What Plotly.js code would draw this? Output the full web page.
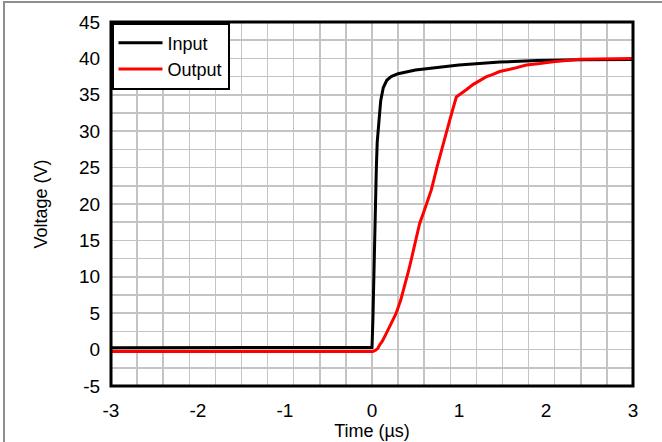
<!DOCTYPE html>
<html>
<head>
<meta charset="utf-8">
<script src="https://cdn.plot.ly/plotly-3.0.1.min.js"></script>
<style>
  html, body { margin: 0; padding: 0; background: #ffffff; }
  #wrap { position: relative; width: 662px; height: 442px; overflow: hidden; }
  #chart { position: absolute; left: 0; top: 0; width: 662px; height: 442px; }
  #edge { position: absolute; left: 3px; top: 1px; right: -10px; bottom: -10px;
          border-top: 2px solid #8e8e8e; border-left: 2px solid #8e8e8e; pointer-events: none; }
</style>
</head>
<body>
<div id="wrap">
  <div id="chart"></div>
  <div id="edge"></div>
</div>
<script>
// Input step (black trace): time in µs, voltage in V
const inputTime = [-3.0, -2.0, -1.0, -0.5, 0.0, 0.01, 0.02, 0.03, 0.04, 0.05, 0.06, 0.08, 0.10,
                   0.13, 0.17, 0.22, 0.30, 0.50, 0.785, 1.0, 1.47, 1.9, 2.4, 3.0];
const inputVolt = [0.25, 0.25, 0.25, 0.25, 0.3, 4.0, 10.0, 16.0, 21.0, 25.0, 28.5, 32.0, 34.2,
                   36.0, 37.0, 37.5, 37.9, 38.4, 38.8, 39.1, 39.5, 39.7, 39.8, 39.85];

// Output response (red trace)
const outputTime = [-3.0, -2.0, -1.0, -0.5, 0.0, 0.01, 0.04, 0.067, 0.086, 0.12, 0.163, 0.22, 0.278,
                    0.33, 0.373, 0.42, 0.45, 0.5, 0.547, 0.604, 0.681, 0.75, 0.823, 0.9, 0.969,
                    1.007, 1.084, 1.16, 1.237, 1.31, 1.39, 1.467, 1.62, 1.774, 1.93, 2.08, 2.39,
                    2.7, 3.0];
const outputVolt = [-0.25, -0.25, -0.25, -0.25, -0.27, -0.27, -0.1, 0.18, 0.6, 1.2, 2.2, 3.5, 5.0,
                    6.8, 8.6, 10.8, 12.3, 15.0, 17.3, 19.2, 21.9, 25.2, 28.6, 31.8, 34.7,
                    35.0, 35.7, 36.4, 37.0, 37.45, 37.8, 38.2, 38.6, 39.1, 39.3, 39.55, 39.87,
                    39.95, 40.0];

const seriesNames = ['Input', 'Output'];
const xTickVals = [-3, -2, -1, 0, 1, 2, 3];
const yTickVals = [-5, 0, 5, 10, 15, 20, 25, 30, 35, 40, 45];

const font = 'Liberation Sans, Arial, sans-serif';

const traces = [
  { x: inputTime, y: inputVolt, name: seriesNames[0], mode: 'lines',
    line: { color: '#000000', width: 3 } },
  { x: outputTime, y: outputVolt, name: seriesNames[1], mode: 'lines',
    line: { color: '#ff0000', width: 3 } }
];

const layout = {
  width: 662, height: 442,
  margin: { l: 111, r: 29, t: 22, b: 56 },
  paper_bgcolor: '#ffffff', plot_bgcolor: '#ffffff',
  font: { family: font, size: 19, color: '#000000' },
  showlegend: true,
  legend: {
    x: 0, y: 1, xanchor: 'left', yanchor: 'top',
    bgcolor: '#ffffff', bordercolor: '#000000', borderwidth: 2.5,
    font: { family: font, size: 18, color: '#000000' },
    itemwidth: 44, tracegroupgap: 0
  },
  xaxis: {
    range: [-3, 3], tickvals: xTickVals, ticktext: xTickVals.map(String),
    showgrid: false, zeroline: false, showline: false,
    ticks: 'outside', ticklen: 7, tickcolor: 'rgba(0,0,0,0)',
    tickfont: { family: font, size: 19 },
    minor: { tick0: -3, dtick: 0.3, showgrid: true, gridcolor: '#c4c4c4', gridwidth: 1.5, ticks: '' },
    title: { text: 'Time (µs)', font: { family: font, size: 18 }, standoff: 4 }
  },
  yaxis: {
    range: [-5, 45], tickvals: yTickVals, ticktext: yTickVals.map(String),
    showgrid: false, zeroline: false, showline: false,
    ticks: 'outside', ticklen: 6, tickcolor: 'rgba(0,0,0,0)',
    tickfont: { family: font, size: 19 },
    minor: { tick0: -5, dtick: 2.5, showgrid: true, gridcolor: '#c4c4c4', gridwidth: 1.5, ticks: '' },
    title: { text: 'Voltage (V)', font: { family: font, size: 18 }, standoff: 26 }
  },
  shapes: [
    { type: 'rect', xref: 'paper', yref: 'paper', x0: 0, x1: 1, y0: 0, y1: 1,
      line: { color: '#000000', width: 3 }, layer: 'above' }
  ]
};

Plotly.newPlot('chart', traces, layout, { displayModeBar: false, staticPlot: true });
</script>
</body>
</html>
